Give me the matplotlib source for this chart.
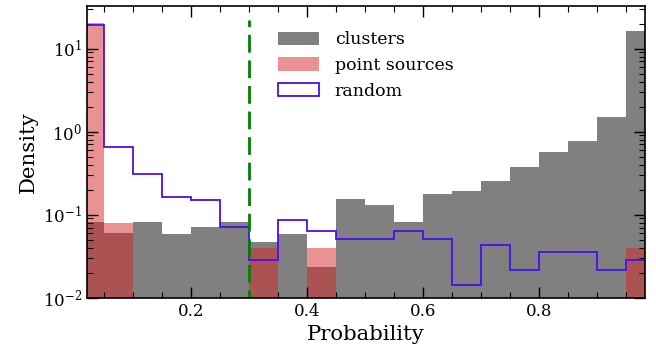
import numpy as np
import matplotlib.pyplot as plt

plt.rcParams['font.family'] = 'DejaVu Serif'
plt.rcParams['mathtext.fontset'] = 'dejavuserif'

edges = np.round(np.arange(0, 1.0001, 0.05), 2)

clusters = [0.081, 0.060, 0.081, 0.059, 0.071, 0.082, 0.047, 0.059, 0.0236, 0.153,
            0.129, 0.082, 0.177, 0.192, 0.251, 0.370, 0.570, 0.767, 1.52, 16.1]
point_sources = [20.3, 0.080, 0, 0, 0, 0, 0.040, 0, 0.040, 0,
                 0, 0, 0, 0, 0, 0, 0, 0, 0, 0.040]
random = [19.0, 0.656, 0.308, 0.163, 0.151, 0.0703, 0.0282, 0.0853, 0.064, 0.0504,
          0.0504, 0.064, 0.0504, 0.0142, 0.0427, 0.0213, 0.0351, 0.0351, 0.0213, 0.0282]

cut = 0.3
cut_top = 21.9

fig = plt.figure(figsize=(6.56, 3.49), dpi=100)
ax = fig.add_axes([0.1326, 0.147, 0.8506, 0.836])

centers = edges[:-1] + 0.025
ax.hist(centers, bins=edges, weights=clusters, color='gray', label='clusters')
ax.hist(centers, bins=edges, weights=point_sources, color='tab:red', alpha=0.5,
        label='point sources')
ax.hist(centers, bins=edges, weights=random, histtype='step', color='#4a0ff0',
        lw=1.3, label='random')
# probability cut, dashes counted from the bottom of the axes
ax.plot([cut, cut], [1e-2, cut_top], color='green', lw=2, ls=(3.5, (6.4, 2.8)))

ax.set_yscale('log')
ax.set_xlim(0.02, 0.983)
ax.set_ylim(1e-2, 32.6)
ax.set_xticks([0.2, 0.4, 0.6, 0.8])
ax.set_xticks(np.arange(0.05, 0.98, 0.05), minor=True)
ax.tick_params(which='both', direction='in', top=True, right=True, labelsize=12)
ax.tick_params(which='major', length=8, width=1)
ax.tick_params(which='minor', length=4, width=0.8)
for s in ax.spines.values():
    s.set_linewidth(1.2)

ax.set_xlabel('Probability', fontsize=15.3)
ax.set_ylabel('Density', fontsize=15.3)
ax.legend(loc='upper left', bbox_to_anchor=(0.3418, 0.9126), frameon=False,
          fontsize=12.5, handlelength=2.36, handleheight=0.8, handletextpad=0.92,
          labelspacing=0.5, borderpad=0, borderaxespad=0)

fig.savefig('out.png', dpi=100)
